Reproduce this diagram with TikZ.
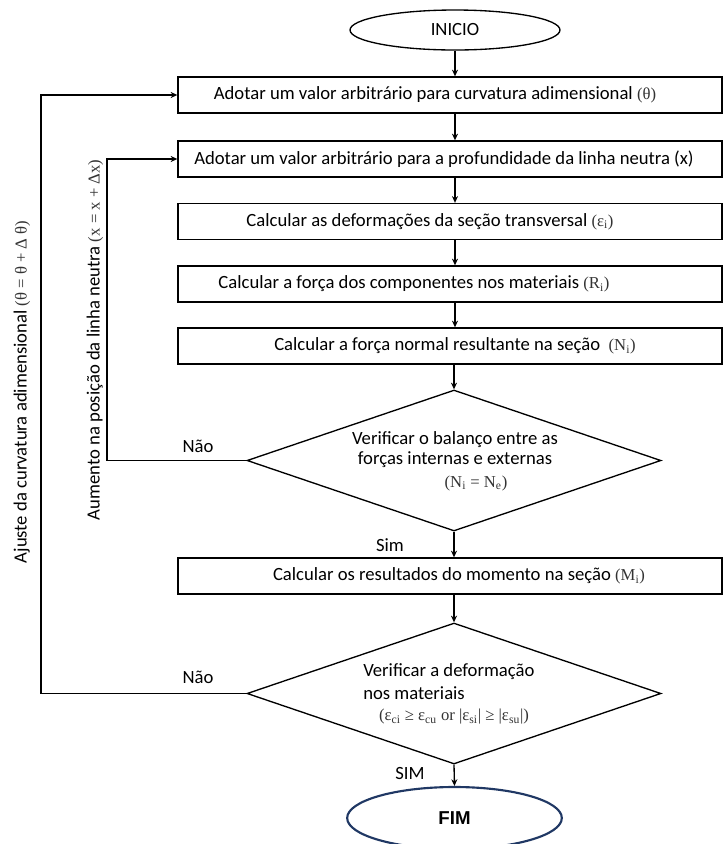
\documentclass[tikz,border=0pt]{standalone}
\usepackage{fontspec}
\setmainfont{Carlito}
\newfontfamily\mfont{Liberation Serif}
\newfontfamily\afont{Liberation Sans}
\usetikzlibrary{shapes.geometric,arrows.meta}
\definecolor{navy}{HTML}{203864}
\definecolor{mgray}{HTML}{333333}
\newcommand{\mth}[1]{{\mfont\fontsize{12.5}{14}\selectfont\color{mgray}#1}}
\newcommand{\sbs}[1]{\textsubscript{#1}}
\begin{document}
\begin{tikzpicture}[x=0.75pt,y=-0.75pt,
  every node/.style={font=\fontsize{14}{16}\selectfont},
  boxnode/.style={draw,line width=1pt,rectangle,minimum width=408pt,minimum height=27pt,inner sep=0pt},
  decnode/.style={draw,line width=1pt,diamond,minimum width=310.5pt,minimum height=105.75pt,inner sep=0pt},
  txt/.style={inner sep=0pt},
  arr/.style={line width=1pt,-{Stealth[length=5pt,width=4.5pt]}},
  conn/.style={line width=1pt}]
\useasboundingbox (0,0) rectangle (724,844);
\clip (0,0) rectangle (724,844);
% start
\node[draw,line width=1pt,ellipse,minimum width=157.5pt,minimum height=30pt,inner sep=0pt] (ini) at (455,30) {INICIO};
% boxes
\node[boxnode] (b1) at (450,95) {};
\node[boxnode] (b2) at (450,159) {};
\node[boxnode] (b3) at (450,221.5) {};
\node[boxnode] (b4) at (450,284) {};
\node[boxnode] (b5) at (450,346) {};
\node[decnode] (d1) at (454,460.5) {};
\node[boxnode] (b6) at (450,576) {};
\node[decnode] (d2) at (454,693.5) {};
\node[draw=navy,line width=1.6pt,ellipse,minimum width=161pt,minimum height=46.5pt,inner sep=0pt,font=\afont\bfseries\fontsize{14}{16}\selectfont] (fim) at (454.5,818) {FIM};
% texts
\node[txt] (t1) at (435,95) {Adotar um valor arbitrário para curvatura adimensional \mth{(θ)}};
\node[txt] (t2) at (444,159) {Adotar um valor arbitrário para a profundidade da linha neutra (x)};
\node[txt] (t3) at (430,221.5) {Calcular as deformações da seção transversal \mth{(ε\sbs{i})}};
\node[txt] (t4) at (414,284) {Calcular a força dos componentes nos materiais \mth{(R\sbs{i})}};
\node[txt] (t5) at (455,346) {Calcular a força normal resultante na seção~ \mth{(N\sbs{i})}};
\node[txt] (t6) at (459,576) {Calcular os resultados do momento na seção \mth{(M\sbs{i})}};
\node[txt] (t7) at (455,440) {Verificar o balanço entre as};
\node[txt] (t8) at (455,460) {forças internas e externas};
\node[txt] (t9) at (476,483) {\mth{(N\sbs{i} = N\sbs{e})}};
\node[txt,anchor=west] (t10) at (363,672) {Verificar a deformação};
\node[txt,anchor=west] (t11) at (363,693) {nos materiais};
\node[txt] (t12) at (454,717) {\mth{(ε\sbs{ci} ≥ ε\sbs{cu} or |ε\sbs{si}| ≥ |ε\sbs{su}|)}};
% labels
\node[txt] (n1) at (198,446) {Não};
\node[txt] (n2) at (198,677) {Não};
\node[txt] (s1) at (390,545) {Sim};
\node[txt] (s2) at (410,773) {SIM};
\node[txt,rotate=90] (la) at (22,392) {Ajuste da curvatura adimensional \mth{(θ = θ + Δ θ)}};
\node[txt,rotate=90] (lb) at (95,340) {Aumento na posição da linha neutra \mth{(x = x + Δx)}};
% connectors
\coordinate (c1) at (107,461);
\coordinate (c2) at (41,694);
\draw[arr] (ini.south) -- (ini.south |- b1.north);
\draw[arr] (ini.south |- b1.south) -- (ini.south |- b2.north);
\draw[arr] (ini.south |- b2.south) -- (ini.south |- b3.north);
\draw[arr] (ini.south |- b3.south) -- (ini.south |- b4.north);
\draw[arr] (ini.south |- b4.south) -- (ini.south |- b5.north);
\draw[arr] (d1.north |- b5.south) -- (d1.north);
\draw[arr] (d1.south) -- (d1.south |- b6.north);
\draw[arr] (d2.north |- b6.south) -- (d2.north);
\draw[arr] (d2.south) -- (fim.north);
\draw[arr] (d1.west) -- (d1.west -| c1) |- (b2.west);
\draw[arr] (d2.west) -- (d2.west -| c2) |- (b1.west);
\end{tikzpicture}
\end{document}
